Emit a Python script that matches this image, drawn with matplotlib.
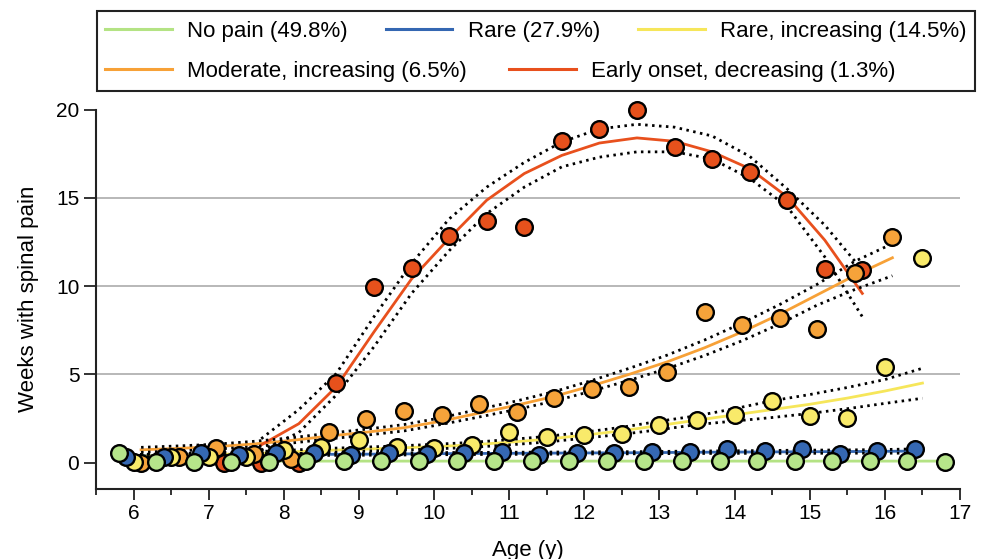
import matplotlib
matplotlib.use("Agg")
import matplotlib.pyplot as plt
from matplotlib.patches import Rectangle
from matplotlib.ticker import MultipleLocator

plt.rcParams['font.family'] = ['Liberation Sans', 'DejaVu Sans']

# ---- data ----
# No pain
green_age = [5.8, 6.3, 6.8, 7.3, 7.8, 8.3, 8.8, 9.3, 9.8, 10.3, 10.8, 11.3, 11.8,
             12.3, 12.8, 13.3, 13.8, 14.3, 14.8, 15.3, 15.8, 16.3, 16.8]
green_obs = [0.55, 0.05, 0.02, 0.05, 0.05, 0.08, 0.08, 0.08, 0.08, 0.06, 0.06, 0.06, 0.06,
             0.06, 0.06, 0.06, 0.06, 0.06, 0.06, 0.06, 0.06, 0.06, 0.02]
green_fit = [0.10, 0.09, 0.09, 0.08, 0.08, 0.08, 0.08, 0.08, 0.08, 0.08, 0.08, 0.08, 0.08,
             0.08, 0.08, 0.08, 0.08, 0.08, 0.08, 0.08, 0.08, 0.08, 0.08]

# Rare
blue_age = [5.9, 6.4, 6.9, 7.4, 7.9, 8.4, 8.9, 9.4, 9.9, 10.4, 10.9, 11.4, 11.9,
            12.4, 12.9, 13.4, 13.9, 14.4, 14.9, 15.4, 15.9, 16.4]
blue_obs = [0.33, 0.33, 0.53, 0.43, 0.53, 0.53, 0.43, 0.53, 0.50, 0.56, 0.58, 0.43, 0.52,
            0.56, 0.58, 0.62, 0.77, 0.68, 0.77, 0.49, 0.68, 0.75]
blue_fit = [0.38, 0.40, 0.42, 0.43, 0.45, 0.46, 0.47, 0.48, 0.50, 0.51, 0.52, 0.53, 0.54,
            0.55, 0.56, 0.58, 0.59, 0.60, 0.61, 0.62, 0.63, 0.65]
blue_lo = [0.30, 0.33, 0.35, 0.37, 0.39, 0.40, 0.41, 0.42, 0.44, 0.45, 0.46, 0.47, 0.48,
           0.49, 0.50, 0.51, 0.52, 0.52, 0.52, 0.53, 0.53, 0.53]
blue_hi = [0.46, 0.47, 0.49, 0.50, 0.51, 0.52, 0.53, 0.54, 0.56, 0.57, 0.58, 0.59, 0.60,
           0.61, 0.62, 0.65, 0.66, 0.68, 0.70, 0.71, 0.73, 0.77]

# Rare, increasing
yellow_age = [6.0, 6.5, 7.0, 7.5, 8.0, 8.5, 9.0, 9.5, 10.0, 10.5, 11.0, 11.5, 12.0,
              12.5, 13.0, 13.5, 14.0, 14.5, 15.0, 15.5, 16.0, 16.5]
yellow_obs = [0.02, 0.33, 0.33, 0.33, 0.71, 0.90, 1.28, 0.90, 0.85, 1.00, 1.71, 1.43, 1.56,
              1.62, 2.13, 2.43, 2.69, 3.50, 2.66, 2.50, 5.39, 11.56]
yellow_fit = [0.35, 0.40, 0.45, 0.50, 0.58, 0.68, 0.75, 0.82, 0.90, 1.00, 1.15, 1.32, 1.55,
              1.80, 2.10, 2.40, 2.70, 3.00, 3.30, 3.65, 4.05, 4.50]
yellow_lo = [0.25, 0.30, 0.35, 0.40, 0.48, 0.57, 0.64, 0.70, 0.77, 0.86, 1.00, 1.16, 1.38,
             1.60, 1.86, 2.15, 2.35, 2.55, 2.78, 3.05, 3.35, 3.64]
yellow_hi = [0.45, 0.50, 0.55, 0.60, 0.68, 0.79, 0.86, 0.94, 1.03, 1.14, 1.30, 1.48, 1.72,
             2.00, 2.34, 2.65, 3.05, 3.50, 3.85, 4.25, 4.70, 5.34]

# Moderate, increasing
orange_age = [6.1, 6.6, 7.1, 7.6, 8.1, 8.6, 9.1, 9.6, 10.1, 10.6, 11.1, 11.6, 12.1,
              12.6, 13.1, 13.6, 14.1, 14.6, 15.1, 15.6, 16.1]
orange_obs = [0.00, 0.33, 0.80, 0.50, 0.19, 1.72, 2.45, 2.90, 2.69, 3.33, 2.88, 3.64, 4.17,
              4.30, 5.15, 8.54, 7.79, 8.17, 7.54, 10.75, 12.75]
orange_fit = [0.72, 0.80, 0.90, 1.05, 1.25, 1.50, 1.72, 1.97, 2.35, 2.80, 3.25, 3.75, 4.35,
              5.00, 5.70, 6.50, 7.40, 8.40, 9.50, 10.60, 11.60]
orange_lo = [0.58, 0.66, 0.76, 0.90, 1.10, 1.34, 1.55, 1.79, 2.16, 2.58, 3.01, 3.48, 4.05,
             4.66, 5.32, 6.06, 6.90, 7.85, 8.92, 9.80, 10.58]
orange_hi = [0.86, 0.94, 1.04, 1.20, 1.40, 1.66, 1.89, 2.15, 2.54, 3.02, 3.49, 4.02, 4.65,
             5.34, 6.08, 6.94, 7.90, 8.95, 10.10, 11.40, 12.40]

# Early onset, decreasing
red_age = [7.2, 7.7, 8.2, 8.7, 9.2, 9.7, 10.2, 10.7, 11.2, 11.7, 12.2, 12.7, 13.2,
           13.7, 14.2, 14.7, 15.2, 15.7]
red_obs = [0.0, 0.0, 0.0, 4.49, 9.95, 11.0, 12.84, 13.67, 13.33, 18.2, 18.92, 19.95, 17.88,
           17.22, 16.46, 14.9, 10.96, 10.9]
red_fit_age = red_age[1:]
red_fit = [1.0, 2.2, 4.3, 7.4, 10.4, 12.7, 14.86, 16.37, 17.4, 18.1, 18.39, 18.2,
           17.6, 16.65, 15.05, 12.6, 9.58]
red_lo = [0.7, 1.7, 3.83, 6.56, 9.58, 12.0, 14.1, 15.6, 16.75, 17.3, 17.6, 17.6,
          17.2, 16.1, 14.5, 11.65, 8.26]
red_hi = [1.35, 3.0, 5.05, 8.26, 11.28, 13.8, 15.6, 17.0, 18.16, 18.9, 19.16, 19.0,
          18.5, 17.35, 15.5, 13.45, 10.9]

labels = ["No pain (49.8%)", "Rare (27.9%)", "Rare, increasing (14.5%)",
          "Moderate, increasing (6.5%)", "Early onset, decreasing (1.3%)"]
line_cols = ["#b4e384", "#3467b2", "#f6e65a", "#f7a137", "#e8501d"]
face_cols = ["#b6e58a", "#3568b3", "#f9ea6a", "#f6a33a", "#e6511c"]

W, H = 981, 559
fig = plt.figure(figsize=(W / 100, H / 100), dpi=100)
ax = fig.add_axes([96 / W, 1 - 489 / H, (960 - 96) / W, (489 - 109.5) / H])

series = [
    (green_age, green_obs, green_age, green_fit, None, None),
    (blue_age, blue_obs, blue_age, blue_fit, blue_lo, blue_hi),
    (yellow_age, yellow_obs, yellow_age, yellow_fit, yellow_lo, yellow_hi),
    (orange_age, orange_obs, orange_age, orange_fit, orange_lo, orange_hi),
    (red_age, red_obs, red_fit_age, red_fit, red_lo, red_hi),
]

handles = []
for i, (xa, yo, xf, yf, lo, hi) in enumerate(series):
    ln, = ax.plot(xf, yf, color=line_cols[i], lw=2.0, zorder=2, label=labels[i])
    handles.append(ln)
    if lo is not None:
        ax.plot(xf, lo, color='black', lw=2.0, ls=(0, (0.9, 1.6)), zorder=2.5)
        ax.plot(xf, hi, color='black', lw=2.0, ls=(0, (0.9, 1.6)), zorder=2.5)
    # later groups sit further back
    ax.plot(xa, yo, 'o', ms=12, mfc=face_cols[i], mec='black', mew=1.7,
            zorder=8 - i, clip_on=False)

ax.set_xlim(5.5, 17)
ax.set_ylim(-1.5, 20)
ax.xaxis.set_minor_locator(MultipleLocator(0.5))
ax.set_xticks(range(6, 18))
ax.set_yticks([0, 5, 10, 15, 20])
for g in [5, 10, 15]:
    ax.axhline(g, color='#b8b8b8', lw=1.4, zorder=1)

for s in ['top', 'right']:
    ax.spines[s].set_visible(False)
for s in ['left', 'bottom']:
    ax.spines[s].set_linewidth(1.5)
    ax.spines[s].set_color('#222222')
ax.tick_params(axis='both', which='major', direction='out', width=1.3,
               color='#222222', labelsize=15)
ax.tick_params(axis='x', which='major', length=8, pad=3)
ax.tick_params(axis='x', which='minor', length=4.5, width=1.3, color='#222222')
ax.tick_params(axis='y', which='major', length=9, pad=3)

ax.set_xlabel("Age (y)", fontsize=16, labelpad=12)
ax.set_ylabel("Weeks with spinal pain", fontsize=16, labelpad=12)

# legend: two rows inside one frame
leg_kw = dict(frameon=False, fontsize=16, handlelength=3.0, handletextpad=0.7,
              borderpad=0, borderaxespad=0, loc='center left')
leg1 = fig.legend(handles[:3], labels[:3], ncol=3, columnspacing=1.7,
                  bbox_to_anchor=(105 / W, 1 - 31.5 / H), **leg_kw)
leg2 = fig.legend(handles[3:], labels[3:], ncol=2, columnspacing=1.9,
                  bbox_to_anchor=(105 / W, 1 - 71 / H), **leg_kw)
for leg in (leg1, leg2):
    for lh in leg.get_lines():
        lh.set_linewidth(2.2)

fig.add_artist(Rectangle((97 / W, 1 - 91 / H), (975 - 97) / W, (91 - 11) / H,
                         transform=fig.transFigure, fill=False, lw=1.5,
                         edgecolor='#222222'))

plt.savefig("out.png", dpi=100)
plt.close()
